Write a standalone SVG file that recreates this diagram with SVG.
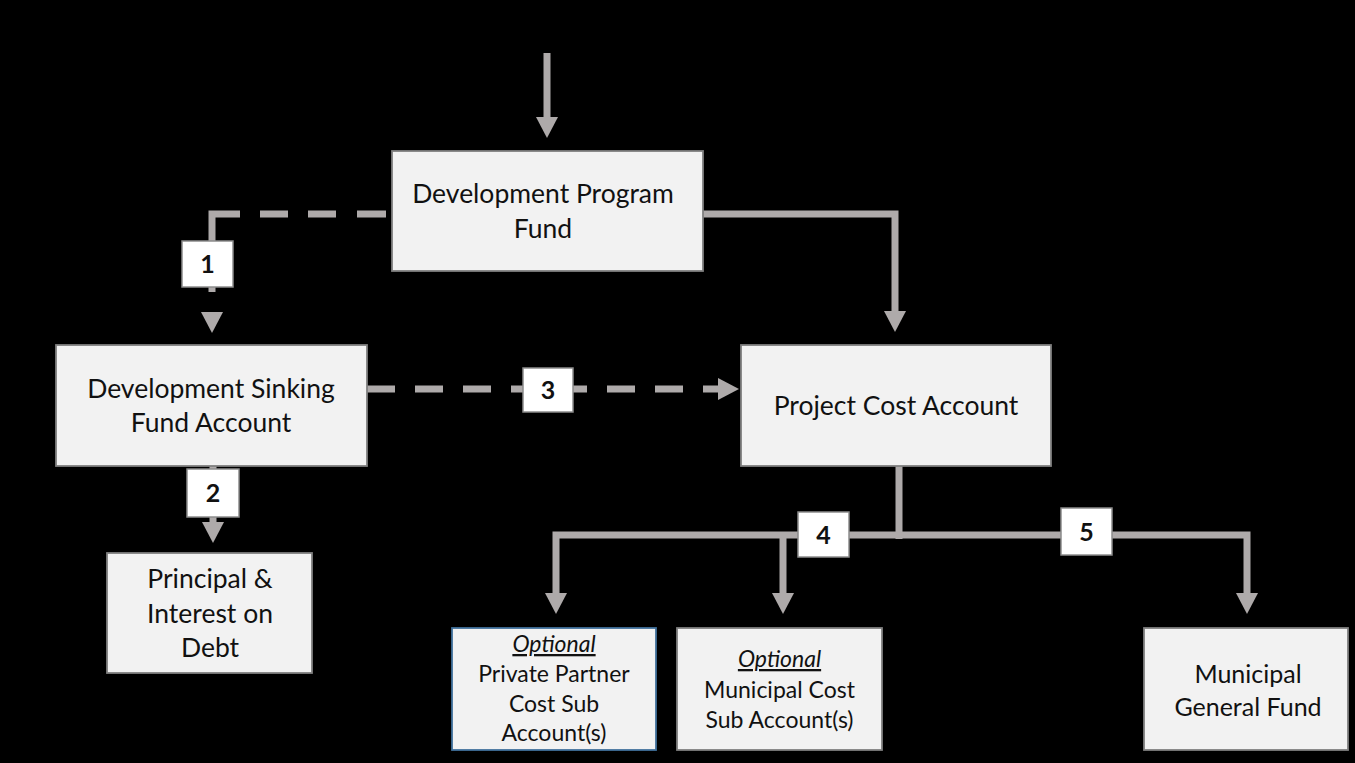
<svg xmlns="http://www.w3.org/2000/svg" width="1355" height="763" viewBox="0 0 1355 763">
<style>
.box{fill:#F2F2F2;stroke:#7F7F7F;stroke-width:1.8}
.blue{stroke:#41719C}
.lbl{fill:#FFFFFF;stroke:#8C8C8C;stroke-width:1.5}
.t{font-family:Lato,"Liberation Sans",sans-serif;fill:#111;text-anchor:middle}
.big{font-size:26.5px}
.mid{font-size:25px}
.sm{font-size:23px}
.num{font-family:Lato,"Liberation Sans",sans-serif;font-weight:bold;font-size:25px;fill:#111;text-anchor:middle}
.ln{fill:none;stroke:#AEAAAA;stroke-width:7;stroke-linejoin:miter}
.dash{stroke-dasharray:28 20}
</style>
<defs>
<marker id="ah" markerUnits="userSpaceOnUse" markerWidth="22" markerHeight="22" viewBox="0 0 22 22" refX="0" refY="11" orient="auto">
<path d="M0,0 L21,11 L0,22 z" fill="#AEAAAA"/>
</marker>
</defs>
<rect x="0" y="0" width="1355" height="763" fill="#000"/>
<g id="connectors">
<path class="ln" d="M547,53 V117" marker-end="url(#ah)"/>
<path class="ln" d="M703,214 H895 V311" marker-end="url(#ah)"/>
<path class="ln" d="M386,214 H212 V312" style="stroke-dasharray:29 21 28 20 28 20 106 40" marker-end="url(#ah)"/>
<path class="ln dash" d="M367,389 H718" marker-end="url(#ah)"/>
<path class="ln" d="M213,466 V522" marker-end="url(#ah)"/>
<path class="ln" d="M899,466 V539"/>
<path class="ln" d="M899,535 H556 V593" marker-end="url(#ah)"/>
<path class="ln" d="M783,535 V593" marker-end="url(#ah)"/>
<path class="ln" d="M899,535 H1247 V593" marker-end="url(#ah)"/>
</g>
<g id="label1"><rect class="lbl" x="182" y="241" width="51" height="46"/><text class="num" x="207.5" y="273">1</text></g>
<g id="label2"><rect class="lbl" x="187" y="469" width="52" height="48"/><text class="num" x="213" y="502">2</text></g>
<g id="label3"><rect class="lbl" x="523" y="368" width="50" height="44"/><text class="num" x="548" y="399">3</text></g>
<g id="label4"><rect class="lbl" x="798" y="512" width="51" height="45"/><text class="num" x="823.5" y="544">4</text></g>
<g id="label5"><rect class="lbl" x="1061" y="508" width="51" height="47"/><text class="num" x="1086.5" y="541">5</text></g>
<g id="dev-program-fund">
<rect class="box" x="392" y="151" width="311" height="120"/>
<text class="t big" x="543" y="203">Development Program</text>
<text class="t big" x="543" y="238">Fund</text>
</g>
<g id="dev-sinking-fund">
<rect class="box" x="56" y="345" width="311" height="121"/>
<text class="t big" x="211" y="398">Development Sinking</text>
<text class="t big" x="211" y="432">Fund Account</text>
</g>
<g id="project-cost-account">
<rect class="box" x="741" y="345" width="310" height="121"/>
<text class="t big" x="896" y="415">Project Cost Account</text>
</g>
<g id="principal-interest">
<rect class="box" x="107" y="553" width="205" height="120"/>
<text class="t big" x="210" y="588">Principal &amp;</text>
<text class="t big" x="210" y="623">Interest on</text>
<text class="t big" x="210" y="657">Debt</text>
</g>
<g id="private-partner">
<rect class="box blue" x="452" y="628" width="204" height="122"/>
<text class="t sm" x="554" y="652" font-style="italic" text-decoration="underline">Optional</text>
<text class="t sm" x="554" y="682">Private Partner</text>
<text class="t sm" x="554" y="712">Cost Sub</text>
<text class="t sm" x="554" y="741">Account(s)</text>
</g>
<g id="municipal-cost-sub">
<rect class="box" x="677" y="628" width="205" height="122"/>
<text class="t sm" x="779.5" y="667" font-style="italic" text-decoration="underline">Optional</text>
<text class="t sm" x="779.5" y="698">Municipal Cost</text>
<text class="t sm" x="779.5" y="728">Sub Account(s)</text>
</g>
<g id="municipal-general-fund">
<rect class="box" x="1144" y="628" width="204" height="122"/>
<text class="t mid" x="1248" y="683">Municipal</text>
<text class="t mid" x="1248" y="716">General Fund</text>
</g>
</svg>
